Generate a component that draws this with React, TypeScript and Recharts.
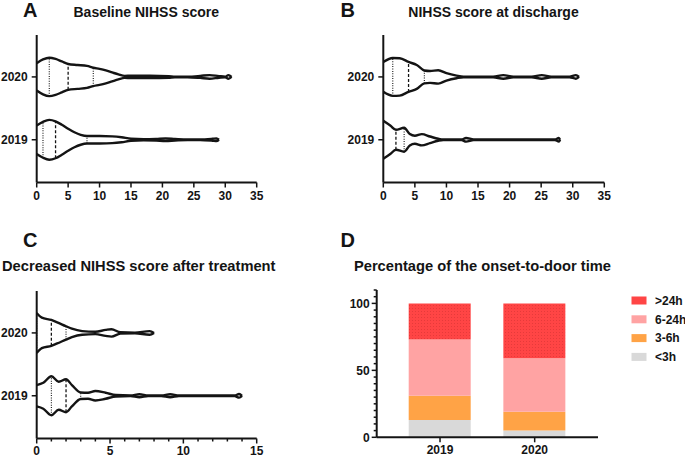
import React from "react";
import { ScatterChart, Scatter, XAxis, YAxis, BarChart, Bar } from "recharts";

const INK = "#141414";
const FONT = "'Liberation Sans', Arial, Helvetica, sans-serif";

const years = ["2019", "2020"];
const yearRows = [1, 2]; // vertical slot of each year in the violin panels
const rowDomain = [0.32, 2.667];

// A: Baseline NIHSS score. Violin outline = score + half width (in row units)
const baseScore2019 = [0, 1, 2, 3, 4, 5, 6, 7, 8, 10, 12, 13.5, 15, 17, 19, 20.5, 22, 24, 26, 28, 28.6, 29];
const baseWidth2019 = [0.227, 0.286, 0.317, 0.294, 0.238, 0.175, 0.119, 0.079, 0.06, 0.059, 0.054, 0.04, 0.016, 0.008, 0.013, 0.021, 0.013, 0.005, 0.005, 0.016, 0.021, 0];
const baseQuart2019 = [1, 3, 8];
const baseScore2020 = [0, 1, 2, 3, 4, 5, 6.5, 8, 9, 10, 11, 12, 13, 14, 15, 18, 21, 22, 24, 26, 27.5, 29, 30, 30.5, 31];
const baseWidth2020 = [0.217, 0.278, 0.306, 0.286, 0.246, 0.206, 0.19, 0.175, 0.146, 0.127, 0.103, 0.071, 0.04, 0.016, 0.019, 0.019, 0.013, 0.005, 0.005, 0.016, 0.029, 0.013, 0.005, 0.029, 0];
const baseQuart2020 = [2, 5, 9];

// B: NIHSS score at discharge
const dischScore2019 = [0, 1.1, 2, 3.3, 4.2, 5, 6.1, 7.4, 8.7, 9.5, 12.4, 13.1, 14.3, 27.2, 27.8, 28];
const dischWidth2019 = [0.302, 0.227, 0.159, 0.19, 0.09, 0.063, 0.09, 0.052, 0.016, 0.005, 0.005, 0.029, 0.005, 0.005, 0.029, 0];
const dischQuart2019 = [0, 2, 3.3];
const dischScore2020 = [0, 1.5, 2.6, 4, 5.3, 6.5, 7.4, 8.7, 10, 11.6, 12.7, 17.4, 19, 20.6, 23.5, 25.1, 26.6, 29.5, 30.5, 31];
const dischWidth2020 = [0.238, 0.302, 0.297, 0.238, 0.19, 0.103, 0.095, 0.106, 0.059, 0.021, 0.005, 0.005, 0.029, 0.005, 0.005, 0.029, 0.005, 0.005, 0.029, 0];
const dischQuart2020 = [1.5, 4, 6.5];

// C: decreased NIHSS score after treatment
const dropScore2019 = [0, 0.45, 1, 1.5, 2, 2.4, 3, 3.5, 4, 4.7, 5.4, 6.4, 7, 7.6, 8.5, 9.1, 9.7, 13.5, 13.8, 14];
const dropWidth2019 = [0.17, 0.206, 0.31, 0.222, 0.262, 0.17, 0.052, 0.048, 0.075, 0.048, 0.011, 0.005, 0.024, 0.005, 0.005, 0.024, 0.005, 0.005, 0.029, 0];
const dropQuart2019 = [1, 2, 3];
const dropScore2020 = [0, 0.35, 1, 1.4, 2, 2.4, 3.1, 4, 4.7, 5.1, 5.7, 6.7, 7.7, 8];
const dropWidth2020 = [0.317, 0.243, 0.206, 0.167, 0.106, 0.067, 0.029, 0.019, 0.048, 0.059, 0.011, 0.005, 0.029, 0];
const dropQuart2020 = [0, 1, 2];

const scoreTicks35 = [0, 5, 10, 15, 20, 25, 30, 35];
const dropTicks = [0, 1, 2, 3, 4, 5, 6, 7, 8, 9, 10, 11, 12, 13, 14, 15];

// D: onset-to-door time (%)
const under3h = [13, 5];
const h3to6 = [18, 14];
const h6to24 = [42, 40];
const over24h = [27, 41];
const percentTicks = [0, 5, 10, 15, 20, 25, 30, 35, 40, 45, 50, 55, 60, 65, 70, 75, 80, 85, 90, 95, 100, 105, 110];

const timeSeries = [
  { key: "lt3", name: "<3h", values: under3h, color: "#D9D9D9" },
  { key: "h36", name: "3-6h", values: h3to6, color: "#FFA346" },
  { key: "h624", name: "6-24h", values: h6to24, color: "#FFA3A3" },
  { key: "gt24", name: ">24h", values: over24h, color: "url(#redDots)", swatch: "#FF4545" },
];

const timeData = years.map((year, i) => {
  const row: any = { year };
  timeSeries.forEach((s) => (row[s.key] = s.values[i]));
  return row;
});

const noDot = () => <g />;

function violinSeries(row: number, xs: number[], ws: number[], quart: number[], id: string) {
  const upper = xs.map((x, i) => ({ x, y: row + ws[i] }));
  const lower = xs.map((x, i) => ({ x, y: row - ws[i] }));
  const out = [
    <Scatter key={id + "u"} data={upper} shape={noDot} line={{ stroke: INK, strokeWidth: 2.4 }} lineJointType="monotoneX" isAnimationActive={false} />,
    <Scatter key={id + "l"} data={lower} shape={noDot} line={{ stroke: INK, strokeWidth: 2.4 }} lineJointType="monotoneX" isAnimationActive={false} />,
  ];
  quart.forEach((q, j) => {
    const w = ws[xs.indexOf(q)];
    out.push(
      <Scatter
        key={id + "q" + j}
        data={[{ x: q, y: row - w }, { x: q, y: row + w }]}
        shape={noDot}
        line={{ stroke: INK, strokeWidth: j === 1 ? 1.3 : 1.1, strokeDasharray: j === 1 ? "3 2" : "1 1.4" }}
        isAnimationActive={false}
      />
    );
  });
  return out;
}

const tickFont = { fontSize: 12, fontWeight: 700, fill: INK, fontFamily: FONT };

const MinorXTick = (props: any) => {
  const { x, y, payload } = props;
  const v = payload.value;
  const major = v % 5 === 0;
  const axisY = y - 9;
  return (
    <g>
      <line x1={x} x2={x} y1={axisY} y2={axisY + (major ? 5 : 3)} stroke={INK} strokeWidth={1.5} />
      {major && (
        <text x={x} y={axisY + 8} dy="0.71em" textAnchor="middle" {...tickFont}>
          {v}
        </text>
      )}
    </g>
  );
};

const PercentTick = (props: any) => {
  const { x, y, payload } = props;
  const v = payload.value;
  const major = v % 50 === 0;
  const axisX = x + 7;
  return (
    <g>
      <line x1={axisX} x2={axisX - (major ? 5 : 3)} y1={y} y2={y} stroke={INK} strokeWidth={1.5} />
      {major && (
        <text x={axisX - 7} y={y} dy="0.36em" textAnchor="end" {...tickFont}>
          {v}
        </text>
      )}
    </g>
  );
};

function ViolinPanel(p: {
  left: number; top: number; width: number; height: number;
  axisW: number; rightM: number; topM: number; xAxisH: number;
  xMax: number; ticks: number[]; minor?: boolean; children: any;
}) {
  return (
    <div style={{ position: "absolute", left: p.left, top: p.top }}>
      <ScatterChart width={p.width} height={p.height} margin={{ top: p.topM, right: p.rightM, bottom: 0, left: 0 }}>
        <XAxis
          type="number"
          dataKey="x"
          domain={[0, p.xMax]}
          ticks={p.ticks}
          interval={0}
          height={p.xAxisH}
          allowDataOverflow
          axisLine={{ stroke: INK, strokeWidth: 2 }}
          tickSize={5}
          tickMargin={4}
          tickLine={p.minor ? false : { stroke: INK, strokeWidth: 1.5 }}
          tick={p.minor ? MinorXTick : tickFont}
        />
        <YAxis
          type="number"
          dataKey="y"
          domain={rowDomain}
          ticks={yearRows}
          interval={0}
          width={p.axisW}
          allowDataOverflow
          axisLine={{ stroke: INK, strokeWidth: 2 }}
          tickSize={5}
          tickMargin={4}
          tickLine={{ stroke: INK, strokeWidth: 1.5 }}
          tick={tickFont}
          tickFormatter={(v: number) => years[yearRows.indexOf(v)]}
        />
        {p.children}
      </ScatterChart>
    </div>
  );
}

export default function App() {
  return (
    <div style={{ position: "absolute", left: 0, top: 0, width: 685, height: 457, background: "#fff", overflow: "hidden", fontFamily: FONT }}>
      <svg width={0} height={0} style={{ position: "absolute" }}>
        <defs>
          <pattern id="redDots" width={3} height={3} patternUnits="userSpaceOnUse">
            <rect width={3} height={3} fill="#FF4545" />
            <rect x={1} y={1} width={0.8} height={0.8} fill="#D83434" />
          </pattern>
        </defs>
      </svg>

      <ViolinPanel left={0} top={0} width={280} height={205} axisW={36.7} rightM={23.3} topM={35} xAxisH={22.5} xMax={35} ticks={scoreTicks35}>
        {violinSeries(1, baseScore2019, baseWidth2019, baseQuart2019, "a19")}
        {violinSeries(2, baseScore2020, baseWidth2020, baseQuart2020, "a20")}
      </ViolinPanel>

      <ViolinPanel left={340} top={0} width={280} height={205} axisW={43.3} rightM={15.7} topM={35} xAxisH={22.5} xMax={35} ticks={scoreTicks35}>
        {violinSeries(1, dischScore2019, dischWidth2019, dischQuart2019, "b19")}
        {violinSeries(2, dischScore2020, dischWidth2020, dischQuart2020, "b20")}
      </ViolinPanel>

      <ViolinPanel left={0} top={240} width={280} height={217} axisW={36.7} rightM={23.3} topM={51} xAxisH={18.5} xMax={15} ticks={dropTicks} minor>
        {violinSeries(1, dropScore2019, dropWidth2019, dropQuart2019, "c19")}
        {violinSeries(2, dropScore2020, dropWidth2020, dropQuart2020, "c20")}
      </ViolinPanel>

      <div style={{ position: "absolute", left: 330, top: 280 }}>
        <BarChart width={268} height={177} data={timeData} margin={{ top: 10, right: 0, bottom: 0, left: 0 }}>
          <XAxis
            dataKey="year"
            padding={{ left: 16, right: 16 }}
            height={19.7}
            axisLine={{ stroke: INK, strokeWidth: 2 }}
            tickSize={5}
            tickMargin={3}
            tickLine={{ stroke: INK, strokeWidth: 1.5 }}
            tick={tickFont}
          />
          <YAxis
            type="number"
            domain={[0, 110]}
            ticks={percentTicks}
            interval={0}
            width={46.7}
            allowDataOverflow
            axisLine={{ stroke: INK, strokeWidth: 2 }}
            tickSize={5}
            tickMargin={2}
            tickLine={false}
            tick={PercentTick}
          />
          {timeSeries.map((s) => (
            <Bar key={s.key} dataKey={s.key} name={s.name} stackId="t" fill={s.color} barSize={62} isAnimationActive={false} />
          ))}
        </BarChart>
      </div>

      <svg width={685} height={457} style={{ position: "absolute", left: 0, top: 0, pointerEvents: "none" }} fontFamily={FONT} fontWeight={700} fill={INK}>
        <text x={23} y={17} fontSize={20}>A</text>
        <text x={73.5} y={17} fontSize={14}>Baseline NIHSS score</text>
        <text x={340.5} y={17} fontSize={20}>B</text>
        <text x={408.3} y={17} fontSize={14}>NIHSS score at discharge</text>
        <text x={23} y={246.7} fontSize={20}>C</text>
        <text x={2} y={270.5} fontSize={14.7}>Decreased NIHSS score after treatment</text>
        <text x={340.5} y={246.7} fontSize={20}>D</text>
        <text x={611} y={270.5} fontSize={14.7} textAnchor="end">Percentage of the onset-to-door time</text>
        {[...timeSeries].reverse().map((s, i) => (
          <g key={s.key}>
            <rect x={631.5} y={296.5 + i * 18.8} width={15} height={8} fill={s.swatch || s.color} />
            <text x={655} y={300.5 + i * 18.8} dy="0.36em" fontSize={12}>{s.name}</text>
          </g>
        ))}
      </svg>
    </div>
  );
}
